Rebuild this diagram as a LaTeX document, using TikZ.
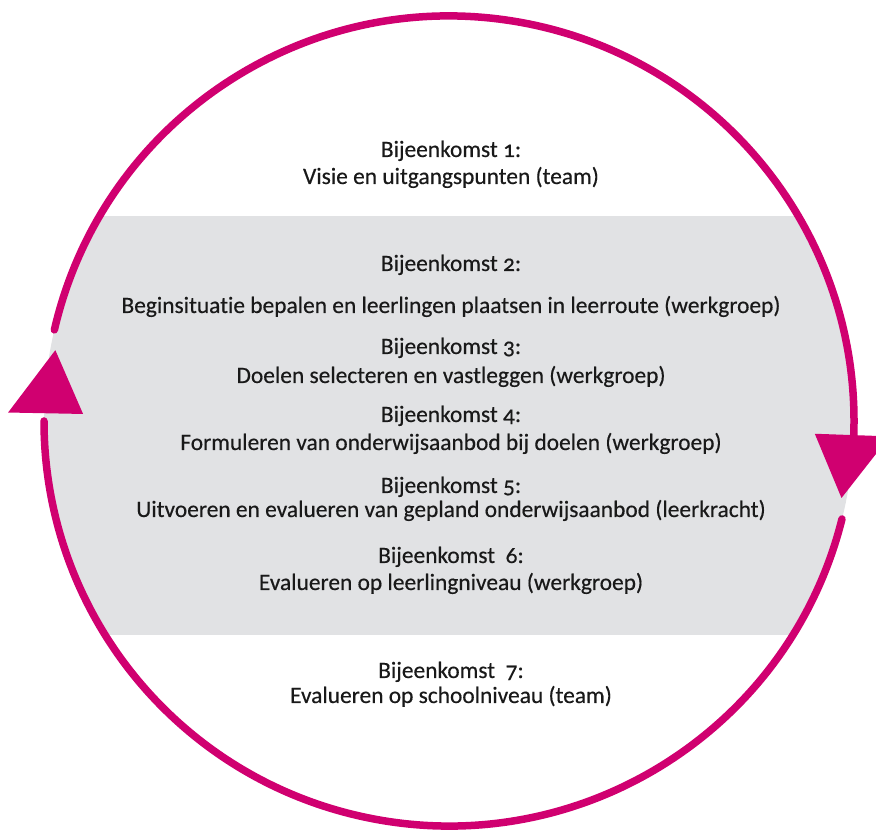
\documentclass[tikz,border=0pt]{standalone}
\usepackage{fontspec}
\setmainfont{Carlito}[Numbers=OldStyle, Ligatures=NoCommon, FakeBold=0.4]
\definecolor{mag}{RGB}{208,0,112}
\definecolor{lgray}{RGB}{225,226,228}
\definecolor{txt}{RGB}{25,25,25}
\begin{document}
\begin{tikzpicture}[x=1pt,y=1pt,
  lbl/.style={font=\fontsize{23.4}{27}\selectfont, anchor=base, inner sep=0pt, text=txt},
  ring/.style={draw=mag, line width=7.5pt, line cap=round},
  arrowhead/.style={fill=mag, draw=none}]
\useasboundingbox (0,0) rectangle (876,834);
\coordinate (C) at (449,413);
\begin{scope}
  \clip (C) circle (405);
  \fill[lgray] (0,199) rectangle (876,618);
\end{scope}
% ring arcs
\draw[ring] ([shift={(-14:405)}]C) arc (-14:-180:405);
\draw[ring] ([shift={(167:405)}]C) arc (167:-3:405);
% arrowheads
\fill[arrowhead] ([shift={(169.8:400)}]C) -- ([shift={(178.9:366)}]C) -- ([shift={(178.9:441)}]C) -- cycle;
\fill[arrowhead] ([shift={(-11.1:400)}]C) -- ([shift={(-2:366)}]C) -- ([shift={(-2:441)}]C) -- cycle;
% texts
\node[lbl] (b1a) at (451,677) {Bijeenkomst 1:};
\node[lbl] (b1b) at (451,650) {Visie en uitgangspunten (team)};
\node[lbl] (b2a) at (451,563) {Bijeenkomst 2:};
\node[lbl] (b2b) at (451,521) {Beginsituatie bepalen en leerlingen plaatsen in leerroute (werkgroep)};
\node[lbl] (b3a) at (451,480) {Bijeenkomst 3:};
\node[lbl] (b3b) at (451,451) {Doelen selecteren en vastleggen (werkgroep)};
\node[lbl] (b4a) at (451,412) {Bijeenkomst 4:};
\node[lbl] (b4b) at (451,384) {Formuleren van onderwijsaanbod bij doelen (werkgroep)};
\node[lbl] (b5a) at (451,341) {Bijeenkomst 5:};
\node[lbl] (b5b) at (451,317) {Uitvoeren en evalueren van gepland onderwijsaanbod (leerkracht)};
\node[lbl] (b6a) at (451,271) {Bijeenkomst\ \ 6:};
\node[lbl] (b6b) at (451,244) {Evalueren op leerlingniveau (werkgroep)};
\node[lbl] (b7a) at (451,156) {Bijeenkomst\ \ 7:};
\node[lbl] (b7b) at (451,131) {Evalueren op schoolniveau (team)};
\end{tikzpicture}
\end{document}
